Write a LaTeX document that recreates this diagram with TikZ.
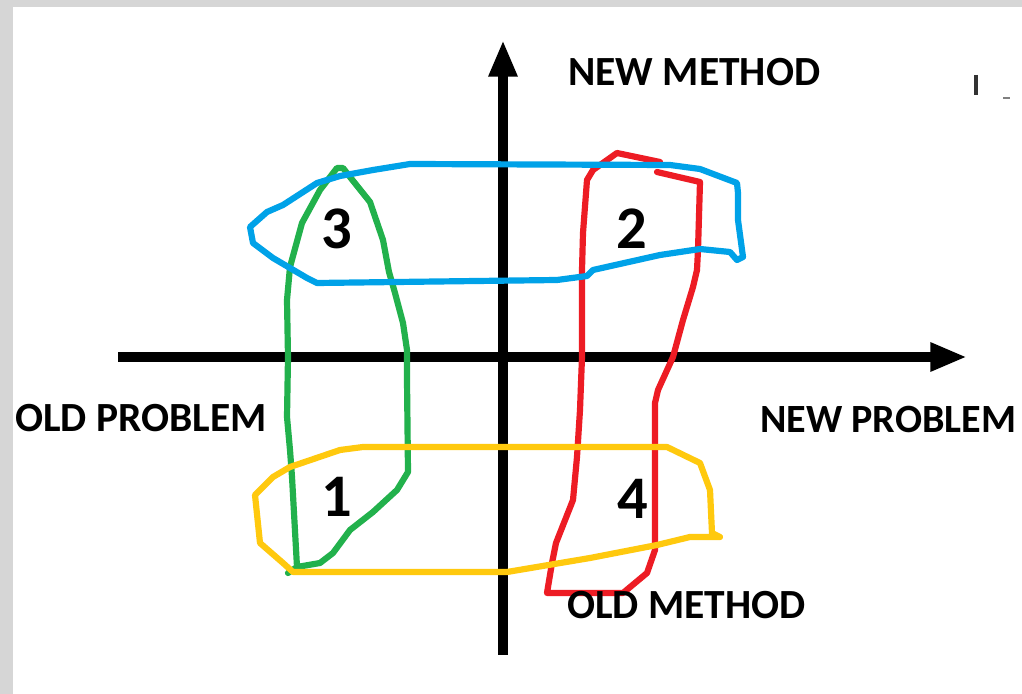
\documentclass[tikz,border=0pt]{standalone}
\usepackage{fontspec}
\setmainfont{Carlito}
\usetikzlibrary{arrows.meta,positioning}
\definecolor{frameGray}{RGB}{214,214,214}
\definecolor{loopBlue}{RGB}{0,162,232}
\definecolor{loopRed}{RGB}{237,28,36}
\definecolor{loopGreen}{RGB}{34,177,76}
\definecolor{loopYellow}{RGB}{255,201,14}
\begin{document}
\begin{tikzpicture}[x=0.025cm, y=-0.025cm,
  axis/.style={line width=7.3pt, -{Triangle[length=26pt, width=19pt]}},
  blob/.style={line width=4.4pt, line join=round, line cap=round},
  lbl/.style={inner sep=0, anchor=west, font=\fontsize{29.5}{31}\selectfont\bfseries},
  num/.style={inner sep=0, font=\fontsize{43}{45}\selectfont\bfseries}]
  \useasboundingbox (0,0) rectangle (1022,694);
  \fill[frameGray] (0,0) rectangle (1022,694);
  \fill[white] (13,7) rectangle (1022,694);
  \coordinate (xl) at (118,357);
  \coordinate (xr) at (967,357);
  \coordinate (yb) at (503,655);
  \coordinate (yt) at (503,40);
  \draw[axis] (xl) -- (xr);
  \draw[axis] (yb) -- (yt);
  \draw[blob, loopGreen] (288,573) -- (297,567) -- (292,477) -- (290,450) -- (287,417) -- (288,357) -- (287,300)
    -- (290,267) -- (302,223) -- (320,190) -- (337,168) -- (343,168) -- (350,177) -- (370,202) -- (383,240)
    -- (389,272) -- (395,293) -- (403,323) -- (407,350) -- (407,380) -- (408,472) -- (397,490) -- (373,512)
    -- (350,530) -- (333,553) -- (320,563) -- (297,567);
  \draw[blob, loopRed] (657,172) -- (700,182) -- (698,250) -- (697,270) -- (693,287) -- (683,320) -- (673,357)
    -- (658,390) -- (655,403) -- (655,550) -- (647,573) -- (623,593) -- (547,593) -- (552,563) -- (556,543)
    -- (573,500) -- (577,457) -- (580,410) -- (582,357) -- (582,270) -- (583,233) -- (587,180) -- (593,170)
    -- (617,153) -- (660,162);
  \draw[blob, loopBlue] (250,227) -- (267,212) -- (283,205) -- (317,183) -- (340,176) -- (373,170) -- (410,164)
    -- (670,165) -- (700,169) -- (737,183) -- (738,193) -- (738,220) -- (743,257) -- (737,260) -- (730,252)
    -- (700,249) -- (660,255) -- (593,270) -- (587,276) -- (557,280) -- (317,283) -- (307,278) -- (273,258)
    -- (253,243) -- cycle;
  \draw[blob, loopYellow] (363,447) -- (667,447) -- (700,463) -- (710,490) -- (712,533) -- (720,537) -- (690,537)
    -- (657,545) -- (590,558) -- (507,572) -- (447,572) -- (293,572) -- (283,563) -- (260,543) -- (255,495)
    -- (273,477) -- (290,467) -- (340,450) -- cycle;
  \node[lbl] (newmeth) at (568,72) {NEW METHOD};
  \node[lbl] (oldprob) at (15,418) {OLD PROBLEM};
  \node[lbl, font=\fontsize{28.5}{30}\selectfont\bfseries] (newprob) at (760,419) {NEW PROBLEM};
  \node[lbl] (oldmeth) at (567,605) {OLD METHOD};
  \node[num] (q3) at (337,229) {3};
  \node[num] (q2) at (632,229) {2};
  \node[num] (q1) at (337,497) {1};
  \node[num] (q4) at (633,499) {4};
  \draw[line width=2.5pt, black!80] (976,75) -- (976,95);
  \draw[line width=1.5pt, black!50] (1003,98) -- (1010,98);
\end{tikzpicture}
\end{document}
